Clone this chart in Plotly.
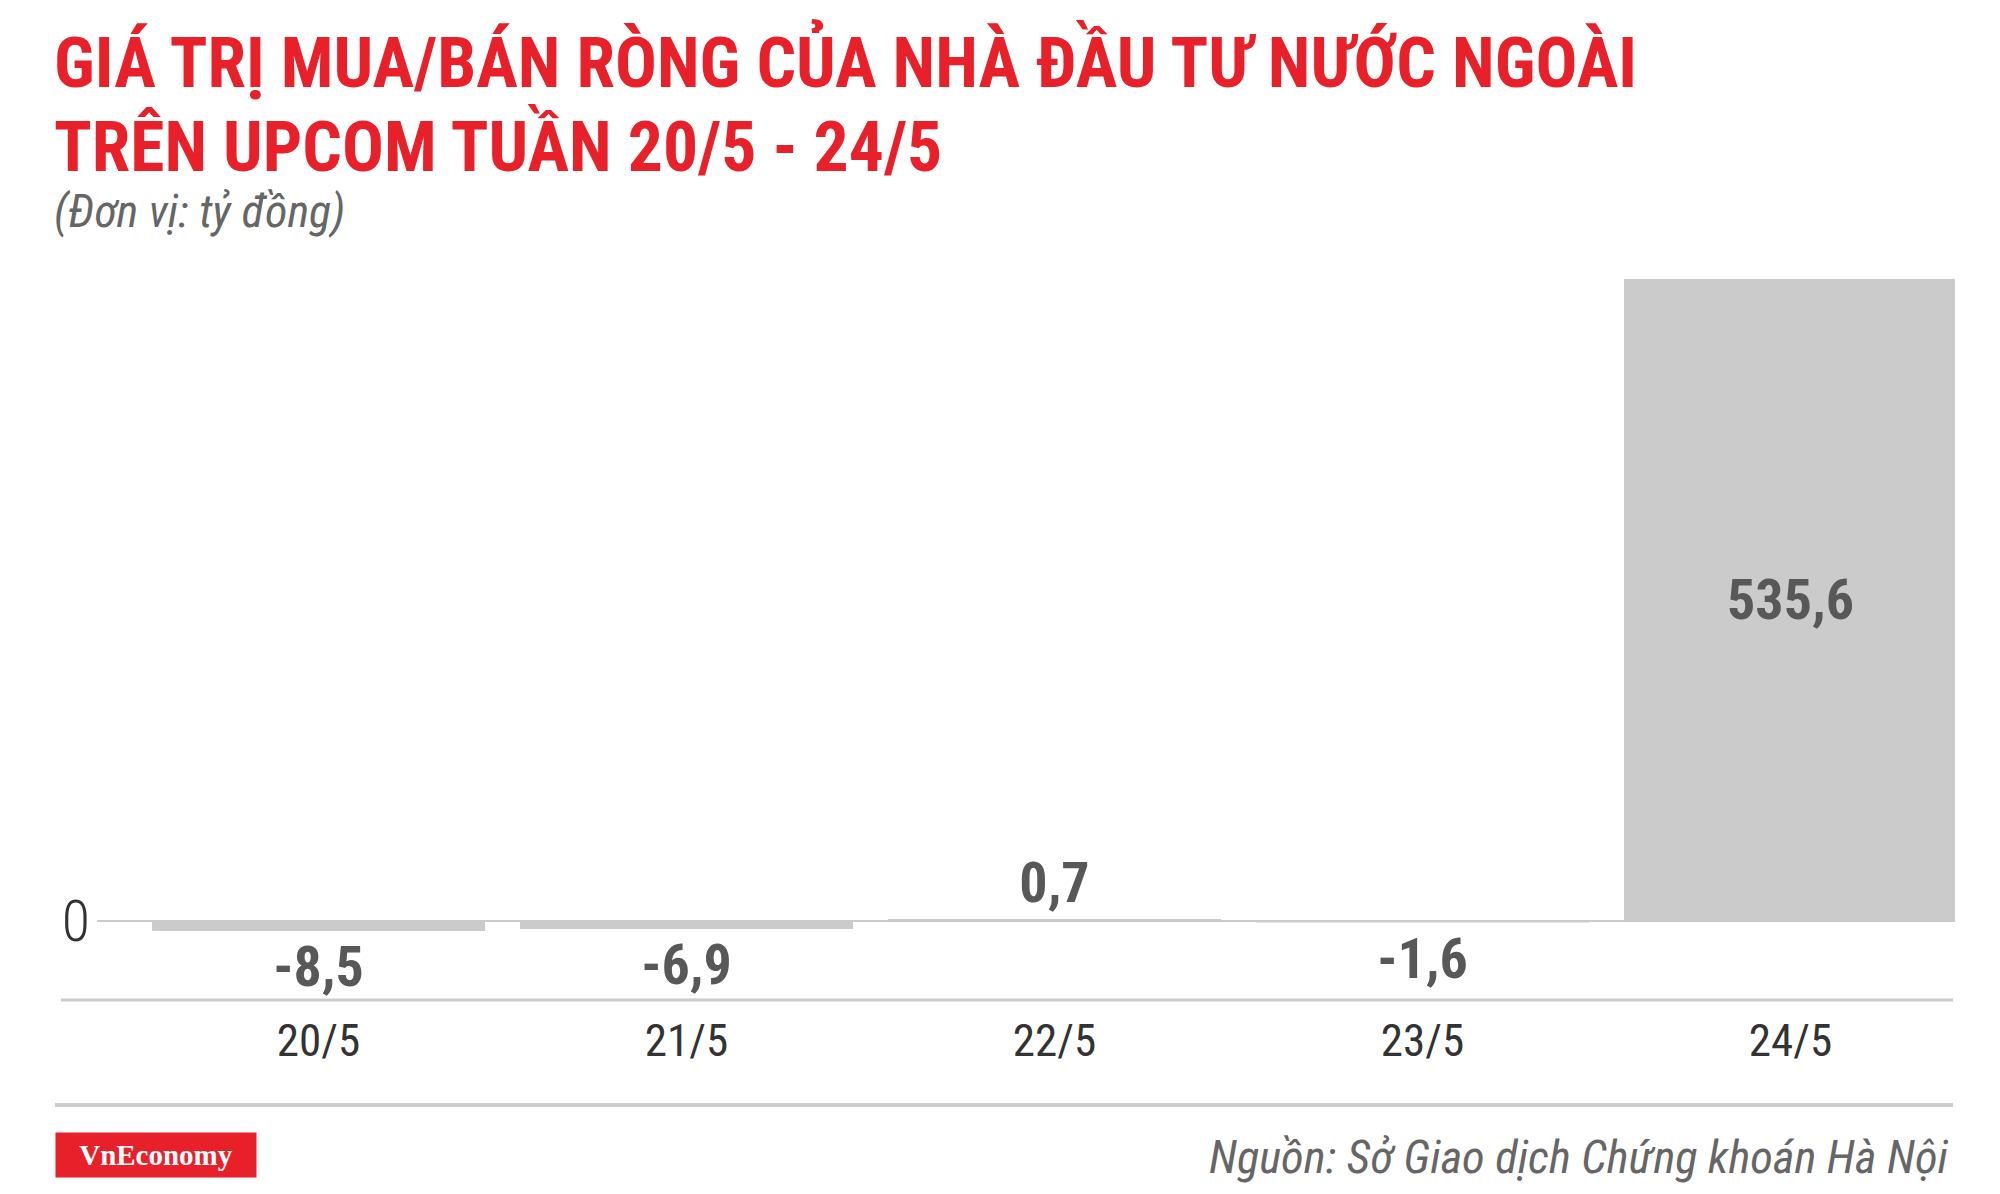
import plotly.graph_objects as go

# ---- data ----
dates = ["20/5", "21/5", "22/5", "23/5", "24/5"]
net_values = [-8.5, -6.9, 0.7, -1.6, 535.6]
label_positions = ["outside", "outside", "outside", "outside", "inside"]

title_line1 = "GIÁ TRỊ MUA/BÁN RÒNG CỦA NHÀ ĐẦU TƯ NƯỚC NGOÀI"
title_line2 = "TRÊN UPCOM TUẦN 20/5 - 24/5"
subtitle = "(Đơn vị: tỷ đồng)"
source = "Nguồn: Sở Giao dịch Chứng khoán Hà Nội"
brand = "VnEconomy"

# ---- layout geometry ----
# The page body has an 8px margin, so the figure is drawn offset by 8px.
OFF = 8
W, H = 2000 - 2 * OFF, 1194 - 2 * OFF
PLOT_L, PLOT_R, PLOT_T, PLOT_B = 97, 1955, 272, 1000   # page pixels
L = PLOT_L - OFF
R = W - (PLOT_R - OFF)
T = PLOT_T - OFF
B = H - (PLOT_B - OFF)
PW, PH = PLOT_R - PLOT_L, PLOT_B - PLOT_T


def px_x(p):
    return (p - PLOT_L) / PW


def px_y(p):
    return (PLOT_B - p) / PH


COND = "Roboto Condensed, Liberation Sans Narrow, DejaVu Sans Condensed, Roboto, sans-serif"
RED = "#E8202A"

text_labels = [f"{v:.1f}".replace(".", ",") for v in net_values]

fig = go.Figure(
    go.Bar(
        x=dates,
        y=net_values,
        width=0.905,
        marker=dict(color="#cccbcc", line=dict(width=0)),
        text=text_labels,
        textposition=label_positions,
        insidetextanchor="middle",
        textangle=0,
        constraintext="none",
        cliponaxis=False,
        textfont=dict(family=COND, size=56, color="#585858", weight=700),
        hoverinfo="skip",
    )
)

fig.update_layout(
    width=W,
    height=H,
    margin=dict(l=L, r=R, t=T, b=B, pad=0),
    paper_bgcolor="white",
    plot_bgcolor="white",
    showlegend=False,
    xaxis=dict(
        range=[-0.602, 4.447],
        showgrid=False,
        showline=False,
        zeroline=False,
        ticks="",
        tickfont=dict(family=COND, size=45, color="#333333"),
        ticklabelstandoff=10,
        fixedrange=True,
    ),
    yaxis=dict(
        range=[-66.2, 541.5],
        showgrid=False,
        showline=False,
        zeroline=True,
        zerolinecolor="#cccccc",
        zerolinewidth=2,
        tickvals=[0],
        ticktext=["0"],
        ticks="",
        tickfont=dict(family=COND, size=58, color="#333333", weight=300),
        ticklabelstandoff=6,
        fixedrange=True,
    ),
    shapes=[
        dict(type="line", xref="paper", yref="paper",
             x0=px_x(61), x1=px_x(1953), y0=0, y1=0,
             line=dict(color="#cccccc", width=3)),
        dict(type="line", xref="paper", yref="paper",
             x0=px_x(55), x1=px_x(1953), y0=px_y(1105), y1=px_y(1105),
             line=dict(color="#cccccc", width=4)),
    ],
    annotations=[
        dict(text=title_line1, xref="paper", yref="paper",
             x=px_x(52), y=px_y(62), xanchor="left", yanchor="middle",
             showarrow=False,
             font=dict(family=COND, size=69.6, color=RED, weight=700)),
        dict(text=title_line2, xref="paper", yref="paper",
             x=px_x(52), y=px_y(146), xanchor="left", yanchor="middle",
             showarrow=False,
             font=dict(family=COND, size=69.6, color=RED, weight=700)),
        dict(text=subtitle, xref="paper", yref="paper",
             x=px_x(52), y=px_y(211), xanchor="left", yanchor="middle",
             showarrow=False,
             font=dict(family=COND, size=46, color="#666666", style="italic", weight=400)),
        dict(text=brand, xref="paper", yref="paper",
             x=px_x(155.5), y=px_y(1155), xanchor="center", yanchor="middle",
             showarrow=False, width=200, height=44, bgcolor=RED, borderpad=0,
             font=dict(family="Liberation Serif, Times New Roman, serif", size=29,
                       color="white", weight=700)),
        dict(text=source, xref="paper", yref="paper",
             x=px_x(1951), y=px_y(1157), xanchor="right", yanchor="middle",
             showarrow=False,
             font=dict(family=COND, size=46.5, color="#666666", style="italic", weight=400)),
    ],
)

fig.write_html("out.html")
